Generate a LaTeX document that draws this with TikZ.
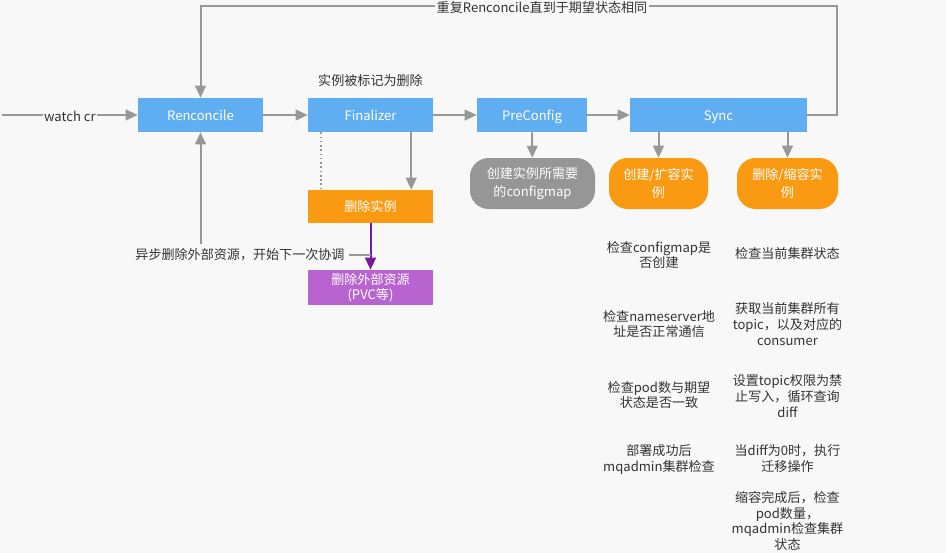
\documentclass[tikz,border=0pt]{standalone}
\usepackage{fontspec}
\setmainfont{Noto Sans CJK SC}
\usetikzlibrary{arrows.meta,positioning}
\definecolor{bgwhite}{RGB}{248,248,248}
\definecolor{boxblue}{RGB}{96,174,242}
\definecolor{boxorange}{RGB}{249,154,18}
\definecolor{boxpurple}{RGB}{183,100,208}
\definecolor{boxgray}{RGB}{150,150,150}
\definecolor{linegray}{RGB}{152,152,152}
\definecolor{linepurple}{RGB}{122,22,160}

\begin{document}
\begin{tikzpicture}[x=0.75pt,y=-0.75pt,
  every node/.style={font=\fontsize{9.8}{11.8}\selectfont},
  stepbox/.style={fill=boxblue,text=white,minimum width=93.75pt,minimum height=25.5pt,inner sep=0pt},
  oneline/.style={text height=8.8pt,text depth=1pt},
  pill/.style={rounded corners=14pt,text=white,align=center,minimum height=38.25pt,inner sep=2pt,
    font=\fontsize{9.8}{13}\selectfont},
  note/.style={align=center,text=black!80},
  flow/.style={draw=linegray,line width=1.5pt,-{Triangle[length=9pt,width=8pt]}}]
% background and bounds
\fill[bgwhite] (0,0) rectangle (946,553);
\useasboundingbox (0,0) rectangle (946,553);

% main row
\node[stepbox,oneline] (ren) at (200.5,115) {Renconcile};
\node[stepbox,oneline] (fin) at (370.5,115) {Finalizer};
\node[stepbox,oneline,minimum width=82.5pt] (pre) at (532,115) {PreConfig};
\node[stepbox,oneline,minimum width=132.75pt] (sync) at (718.5,115) {Sync};
\node[note] (mark) at (370.5,80) {实例被标记为删除};

% deletion branch
\node[stepbox,oneline,fill=boxorange,minimum height=24.75pt] (del) at (370.5,206.5) {删除实例};
\node[stepbox,fill=boxpurple,minimum height=26.25pt,align=center,
  font=\fontsize{9.8}{11}\selectfont] (ext) at (370.5,287.5) {删除外部资源\\(PVC等)};
\node[note] (async) at (240,255) {异步删除外部资源，开始下一次协调};

% sub steps
\node[pill,fill=boxgray,minimum width=93.75pt] (cfg) at (532.5,183.5) {创建实例所需要\\的configmap};
\node[pill,fill=boxorange,minimum width=74.25pt] (add) at (658.5,183.5) {创建/扩容实\\例};
\node[pill,fill=boxorange,minimum width=75.75pt] (rm) at (787.5,183.5) {删除/缩容实\\例};

% checks
\node[note] (a1) at (659,255) {检查configmap是\\否创建};
\node[note] (a2) at (659,324) {检查nameserver地\\址是否正常通信};
\node[note] (a3) at (659,395) {检查pod数与期望\\状态是否一致};
\node[note] (a4) at (659,459.5) {部署成功后\\mqadmin集群检查};
\node[note] (b1) at (787.5,253) {检查当前集群状态};
\node[note] (b2) at (787.5,324) {获取当前集群所有\\topic，以及对应的\\consumer};
\node[note] (b3) at (787.5,396) {设置topic权限为禁\\止写入，循环查询\\diff};
\node[note] (b4) at (787.5,458.5) {当diff为0时，执行\\迁移操作};
\node[note] (b5) at (787.5,521) {缩容完成后，检查\\pod数量，\\mqadmin检查集群\\状态};

% connectors
\coordinate (src) at (2,115);
\coordinate (loopr) at (837,6);
\draw[flow] (src) -- node[fill=bgwhite,inner sep=1pt,text=black!80,yshift=-1pt] (watch) {watch cr} (ren);
\draw[flow] (ren) -- (fin);
\draw[flow] (fin) -- (pre);
\draw[flow] (pre) -- (sync);
\draw[flow] (sync.east) -| (loopr) -| (ren.north);
\node[note,fill=bgwhite,inner sep=1pt] (looptxt) at (542,8) {重复Renconcile直到于期望状态相同};
\draw[linegray,line width=1.2pt,dotted] ([xshift=9.75pt]fin.south west) -- ([xshift=9.75pt]del.north west);
\draw[flow] ([xshift=-16.5pt]fin.south east) -- ([xshift=-16.5pt]del.north east);
\draw[flow,draw=linepurple] (del) -- (ext);
\draw[linegray,line width=1.5pt] (async.east) -- (async.east -| del.south);
\draw[flow] (async.north -| ren.south) -- (ren.south);
\draw[flow] (pre) -- (cfg);
\draw[flow] (add.north |- sync.south) -- (add);
\draw[flow] (rm.north |- sync.south) -- (rm);
\end{tikzpicture}
\end{document}
